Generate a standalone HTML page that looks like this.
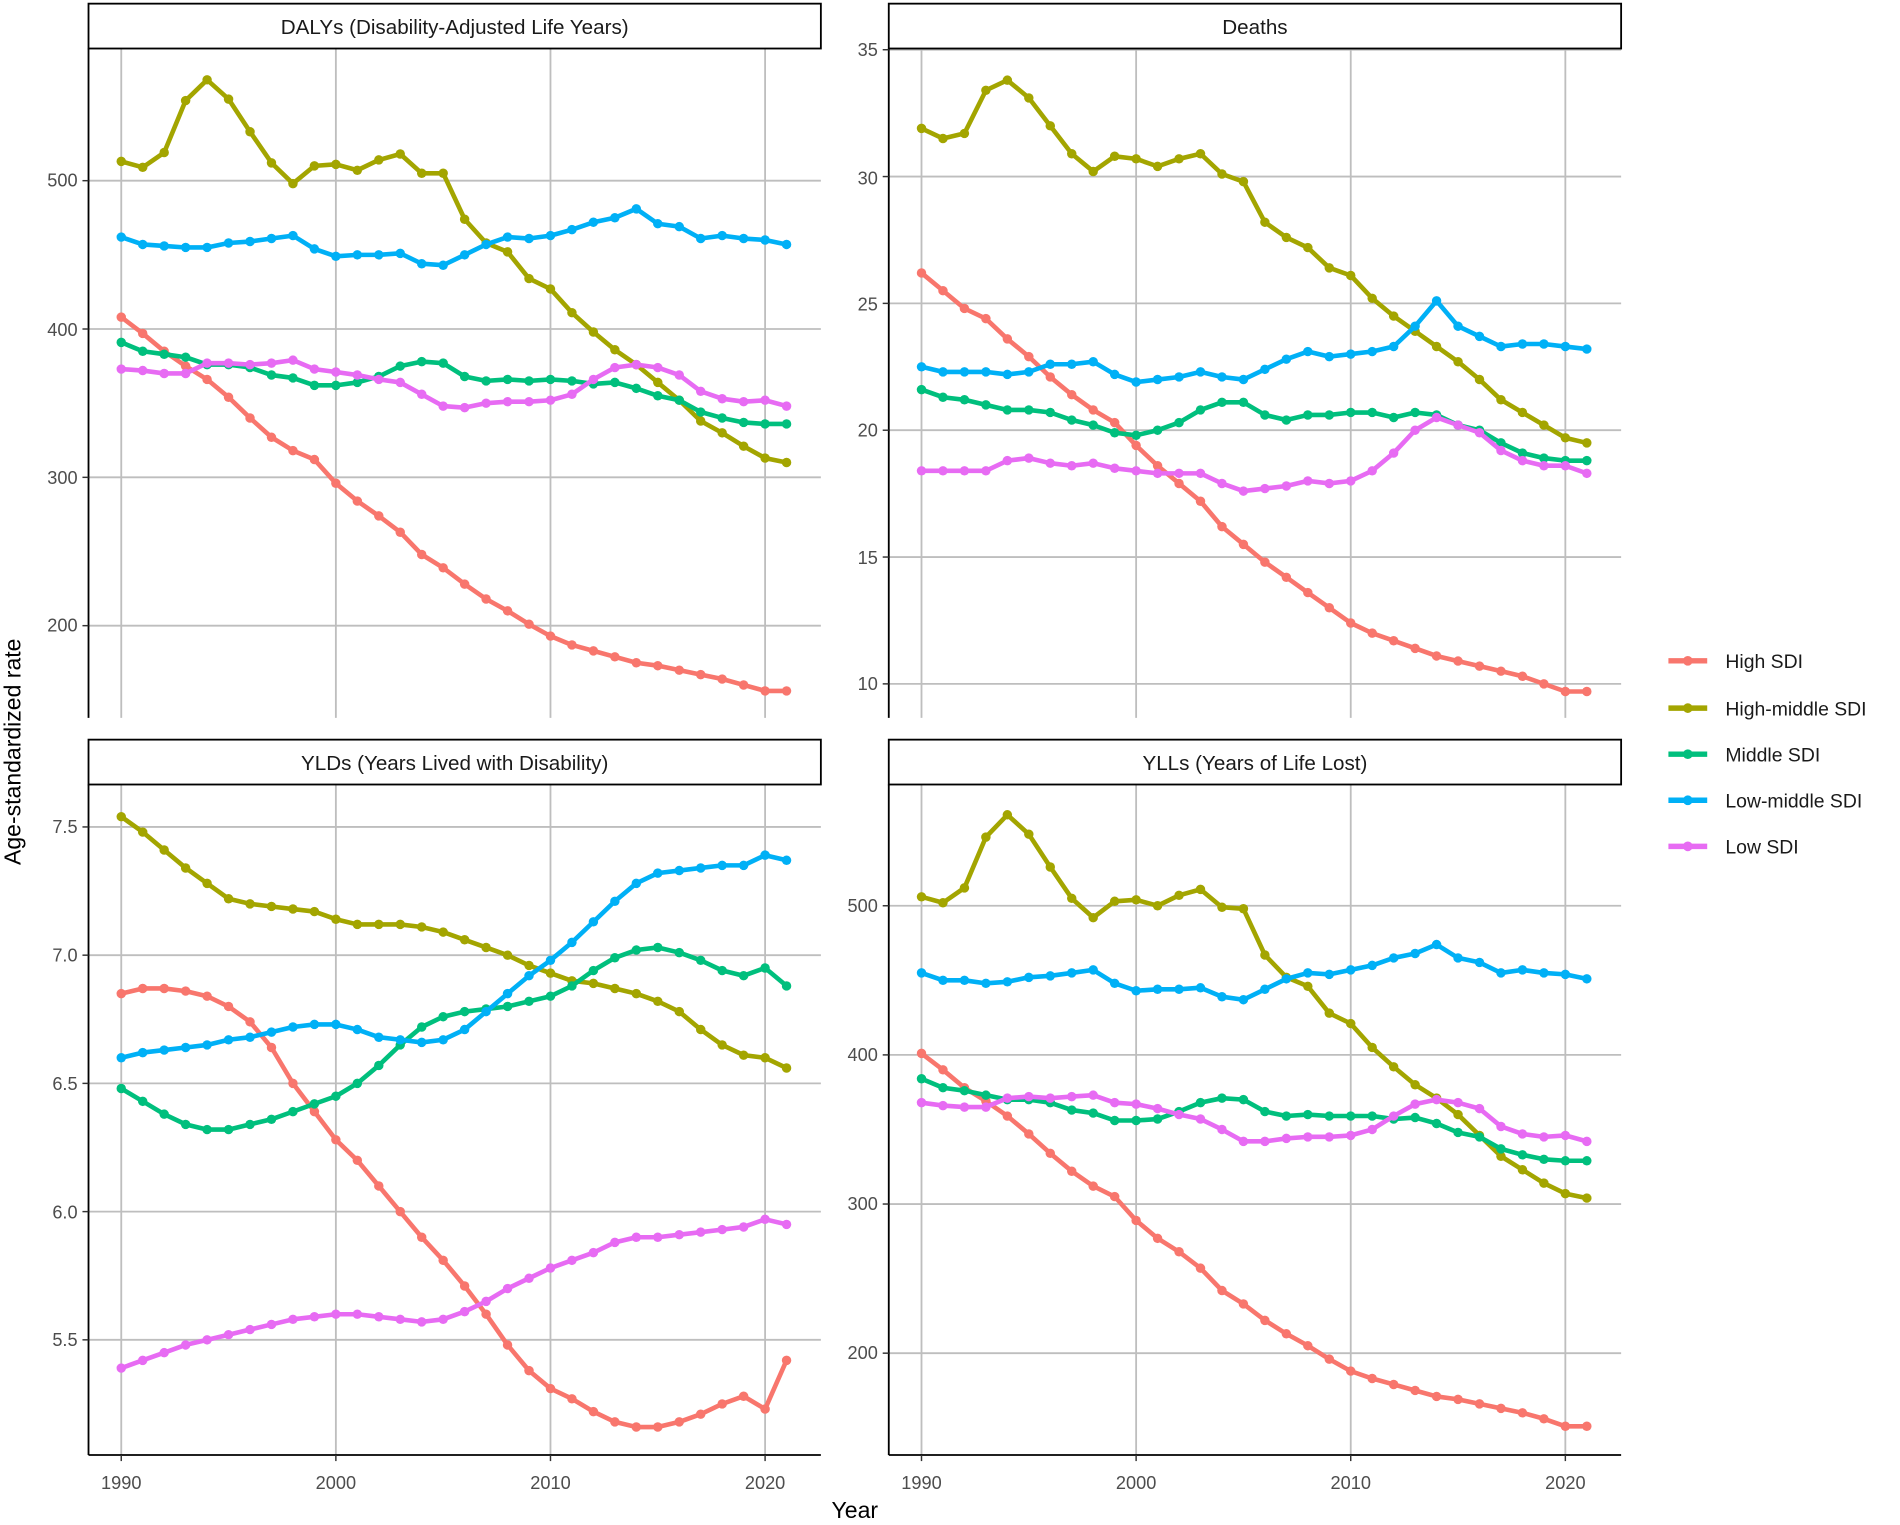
<!DOCTYPE html>
<html><head><meta charset="utf-8"><style>
html,body{margin:0;padding:0;background:#fff;}
svg{display:block;font-family:"Liberation Sans",Arial,sans-serif;}
.tk{font-size:15px;fill:#4d4d4d;text-anchor:end;}
.tx{font-size:15px;fill:#4d4d4d;text-anchor:middle;}
.st{font-size:17px;fill:#1a1a1a;text-anchor:middle;}
.lg{font-size:16px;fill:#1a1a1a;}
.g{stroke:#bebebe;stroke-width:1.5;}
</style></head><body>
<svg id="s" width="1900" height="1525" viewBox="0 0 1567 1257.7" xmlns="http://www.w3.org/2000/svg">
<g id="grids"></g>
<g id="data"></g>
<rect x="73" y="3" width="604" height="37" fill="#fff" stroke="#000" stroke-width="1.5"/>
<text class="st" x="375" y="28">DALYs (Disability-Adjusted Life Years)</text>
<rect x="733" y="3" width="604" height="37" fill="#fff" stroke="#000" stroke-width="1.5"/>
<text class="st" x="1035" y="28">Deaths</text>
<rect x="73" y="610" width="604" height="37" fill="#fff" stroke="#000" stroke-width="1.5"/>
<text class="st" x="375" y="635">YLDs (Years Lived with Disability)</text>
<rect x="733" y="610" width="604" height="37" fill="#fff" stroke="#000" stroke-width="1.5"/>
<text class="st" x="1035" y="635">YLLs (Years of Life Lost)</text>
<g stroke="#000" stroke-width="1.5">
<line x1="73" y1="40" x2="73" y2="592"/>
<line x1="733" y1="40" x2="733" y2="592"/>
<line x1="73" y1="647" x2="73" y2="1200"/>
<line x1="733" y1="647" x2="733" y2="1200"/>
<line x1="73" y1="1200" x2="677" y2="1200"/>
<line x1="733" y1="1200" x2="1337" y2="1200"/>
</g>
<g id="ticks" stroke="#333" stroke-width="1.2"></g>
<text class="tk" x="64" y="154">500</text>
<text class="tk" x="64" y="277">400</text>
<text class="tk" x="64" y="399">300</text>
<text class="tk" x="64" y="521">200</text>
<text class="tk" x="724" y="46">35</text>
<text class="tk" x="724" y="152">30</text>
<text class="tk" x="724" y="256">25</text>
<text class="tk" x="724" y="360">20</text>
<text class="tk" x="724" y="465">15</text>
<text class="tk" x="724" y="569">10</text>
<text class="tk" x="64" y="687">7.5</text>
<text class="tk" x="64" y="793">7.0</text>
<text class="tk" x="64" y="899">6.5</text>
<text class="tk" x="64" y="1005">6.0</text>
<text class="tk" x="64" y="1110">5.5</text>
<text class="tk" x="724" y="752">500</text>
<text class="tk" x="724" y="875">400</text>
<text class="tk" x="724" y="998">300</text>
<text class="tk" x="724" y="1121">200</text>
<text class="tx" x="100" y="1228">1990</text>
<text class="tx" x="277" y="1228">2000</text>
<text class="tx" x="454" y="1228">2010</text>
<text class="tx" x="631" y="1228">2020</text>
<text class="tx" x="760" y="1228">1990</text>
<text class="tx" x="937" y="1228">2000</text>
<text class="tx" x="1114" y="1228">2010</text>
<text class="tx" x="1291" y="1228">2020</text>
<text x="705" y="1252" style="font-size:19px;fill:#000;text-anchor:middle">Year</text>
<text transform="translate(17,620) rotate(-90)" style="font-size:19px;fill:#000;text-anchor:middle">Age-standardized rate</text>
<g id="leg"></g>
<text class="lg" x="1423" y="551">High SDI</text>
<text class="lg" x="1423" y="590">High-middle SDI</text>
<text class="lg" x="1423" y="628">Middle SDI</text>
<text class="lg" x="1423" y="666">Low-middle SDI</text>
<text class="lg" x="1423" y="704">Low SDI</text>
</svg>
<script>
var C=["#F8766D","#A3A500","#00BF7D","#00B0F6","#E76BF3"];
var P=[
{x0:100,top:40,bot:592,ya:[500,149],yb:[200,516],ticks:[200,300,400,500],d:[
[408,397,385,375,366,354,340,327,318,312,296,284,274,263,248,239,228,218,210,201,193,187,183,179,175,173,170,167,164,160,156,156],
[513,509,519,554,568,555,533,512,498,510,511,507,514,518,505,505,474,458,452,434,427,411,398,386,376,364,352,338,330,321,313,310],
[391,385,383,381,376,376,374,369,367,362,362,364,368,375,378,377,368,365,366,365,366,365,363,364,360,355,352,344,340,337,336,336],
[462,457,456,455,455,458,459,461,463,454,449,450,450,451,444,443,450,457,462,461,463,467,472,475,481,471,469,461,463,461,460,457],
[373,372,370,370,377,377,376,377,379,373,371,369,366,364,356,348,347,350,351,351,352,356,366,374,376,374,369,358,353,351,352,348]]},
{x0:760,top:40,bot:592,ya:[35,41],yb:[10,564],ticks:[10,15,20,25,30,35],d:[
[26.2,25.5,24.8,24.4,23.6,22.9,22.1,21.4,20.8,20.3,19.4,18.6,17.9,17.2,16.2,15.5,14.8,14.2,13.6,13.0,12.4,12.0,11.7,11.4,11.1,10.9,10.7,10.5,10.3,10.0,9.7,9.7],
[31.9,31.5,31.7,33.4,33.8,33.1,32.0,30.9,30.2,30.8,30.7,30.4,30.7,30.9,30.1,29.8,28.2,27.6,27.2,26.4,26.1,25.2,24.5,23.9,23.3,22.7,22.0,21.2,20.7,20.2,19.7,19.5],
[21.6,21.3,21.2,21.0,20.8,20.8,20.7,20.4,20.2,19.9,19.8,20.0,20.3,20.8,21.1,21.1,20.6,20.4,20.6,20.6,20.7,20.7,20.5,20.7,20.6,20.2,20.0,19.5,19.1,18.9,18.8,18.8],
[22.5,22.3,22.3,22.3,22.2,22.3,22.6,22.6,22.7,22.2,21.9,22.0,22.1,22.3,22.1,22.0,22.4,22.8,23.1,22.9,23.0,23.1,23.3,24.1,25.1,24.1,23.7,23.3,23.4,23.4,23.3,23.2],
[18.4,18.4,18.4,18.4,18.8,18.9,18.7,18.6,18.7,18.5,18.4,18.3,18.3,18.3,17.9,17.6,17.7,17.8,18.0,17.9,18.0,18.4,19.1,20.0,20.5,20.2,19.9,19.2,18.8,18.6,18.6,18.3]]},
{x0:100,top:647,bot:1200,ya:[7.5,682],yb:[5.5,1105],ticks:[5.5,6.0,6.5,7.0,7.5],d:[
[6.85,6.87,6.87,6.86,6.84,6.80,6.74,6.64,6.50,6.39,6.28,6.20,6.10,6.00,5.90,5.81,5.71,5.60,5.48,5.38,5.31,5.27,5.22,5.18,5.16,5.16,5.18,5.21,5.25,5.28,5.23,5.42],
[7.54,7.48,7.41,7.34,7.28,7.22,7.20,7.19,7.18,7.17,7.14,7.12,7.12,7.12,7.11,7.09,7.06,7.03,7.00,6.96,6.93,6.90,6.89,6.87,6.85,6.82,6.78,6.71,6.65,6.61,6.60,6.56],
[6.48,6.43,6.38,6.34,6.32,6.32,6.34,6.36,6.39,6.42,6.45,6.50,6.57,6.65,6.72,6.76,6.78,6.79,6.80,6.82,6.84,6.88,6.94,6.99,7.02,7.03,7.01,6.98,6.94,6.92,6.95,6.88],
[6.60,6.62,6.63,6.64,6.65,6.67,6.68,6.70,6.72,6.73,6.73,6.71,6.68,6.67,6.66,6.67,6.71,6.78,6.85,6.92,6.98,7.05,7.13,7.21,7.28,7.32,7.33,7.34,7.35,7.35,7.39,7.37],
[5.39,5.42,5.45,5.48,5.50,5.52,5.54,5.56,5.58,5.59,5.60,5.60,5.59,5.58,5.57,5.58,5.61,5.65,5.70,5.74,5.78,5.81,5.84,5.88,5.90,5.90,5.91,5.92,5.93,5.94,5.97,5.95]]},
{x0:760,top:647,bot:1200,ya:[500,747],yb:[200,1116],ticks:[200,300,400,500],d:[
[401,390,378,369,359,347,334,322,312,305,289,277,268,257,242,233,222,213,205,196,188,183,179,175,171,169,166,163,160,156,151,151],
[506,502,512,546,561,548,526,505,492,503,504,500,507,511,499,498,467,452,446,428,421,405,392,380,371,360,346,332,323,314,307,304],
[384,378,376,373,370,370,368,363,361,356,356,357,362,368,371,370,362,359,360,359,359,359,357,358,354,348,345,337,333,330,329,329],
[455,450,450,448,449,452,453,455,457,448,443,444,444,445,439,437,444,451,455,454,457,460,465,468,474,465,462,455,457,455,454,451],
[368,366,365,365,371,372,371,372,373,368,367,364,360,357,350,342,342,344,345,345,346,350,359,367,370,368,364,352,347,345,346,342]]}
];
var NS="http://www.w3.org/2000/svg";
function el(p,t,a){var e=document.createElementNS(NS,t);for(var k in a)e.setAttribute(k,a[k]);p.appendChild(e);return e;}
var G=document.getElementById("grids"),D=document.getElementById("data"),T=document.getElementById("ticks"),L=document.getElementById("leg");
var dx=(631-100)/30;
P.forEach(function(p){
  var sc=(p.yb[1]-p.ya[1])/(p.yb[0]-p.ya[0]);
  function Y(v){return p.ya[1]+(v-p.ya[0])*sc;}
  var left=p.x0-27,right=left+604;
  [0,10,20,30].forEach(function(i){var x=p.x0+i*dx;el(G,"line",{x1:x,x2:x,y1:p.top,y2:p.bot,"class":"g"});
    if(p.bot==1200)el(T,"line",{x1:x,x2:x,y1:1200,y2:1205});});
  p.ticks.forEach(function(v){var y=Y(v);el(G,"line",{x1:left,x2:right,y1:y,y2:y,"class":"g"});el(T,"line",{x1:left-5,x2:left,y1:y,y2:y});});
  p.d.forEach(function(s,j){
    var pts=s.map(function(v,i){return [p.x0+i*dx,Y(v)];});
    el(D,"polyline",{points:pts.map(function(q){return q[0].toFixed(1)+","+q[1].toFixed(1);}).join(" "),fill:"none",stroke:C[j],"stroke-width":3.8,"stroke-linejoin":"round"});
    pts.forEach(function(q){el(D,"circle",{cx:q[0],cy:q[1],r:3.9,fill:C[j]});});
  });
});
[545,584,622,660,698].forEach(function(y,j){el(L,"line",{x1:1376,x2:1408,y1:y,y2:y,stroke:C[j],"stroke-width":4.5});el(L,"circle",{cx:1392,cy:y,r:4,fill:C[j]});});
</script>
</body></html>
